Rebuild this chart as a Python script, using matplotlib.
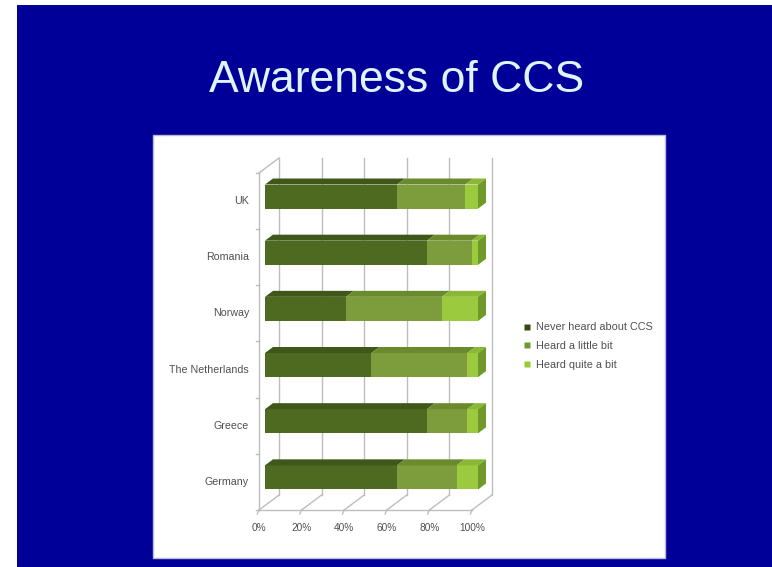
import matplotlib
matplotlib.use("Agg")
import matplotlib.pyplot as plt
from matplotlib.patches import Rectangle, Polygon
from matplotlib.lines import Line2D
from matplotlib.transforms import offset_copy

# ---- data ----
countries = ["Germany", "Greece", "The Netherlands", "Norway", "Romania", "UK"]
never_heard = [62, 76, 50, 38, 76, 62]
heard_little = [28, 19, 45, 45, 21, 32]
heard_quite = [10, 5, 5, 17, 3, 6]
series_names = ["Never heard about CCS", "Heard a little bit", "Heard quite a bit"]
x_ticks = [0, 20, 40, 60, 80, 100]
x_tick_labels = ["0%", "20%", "40%", "60%", "80%", "100%"]

# ---- styles ----
front_cols = ["#4e6a21", "#7d9c3c", "#9bca3e"]
top_cols = ["#3f5719", "#6a8a2e", "#8ab736"]
side_col = "#6f9a2a"
legend_cols = ["#34490f", "#6a9a30", "#99cc33"]
grid_col = "#bdbdbd"

W, H = 772, 567
def fx(px): return px / W
def fy(py): return 1 - py / H

fig = plt.figure(figsize=(W / 100, H / 100), dpi=100)
fig.patch.set_facecolor("white")
fig.patches.append(Rectangle((fx(17), 0), 1 - fx(17), fy(5), transform=fig.transFigure,
                             facecolor="#000099", edgecolor="none", zorder=-3))
fig.patches.append(Rectangle((fx(153), fy(558)), fx(665 - 153), (558 - 135) / H,
                             transform=fig.transFigure, facecolor="white",
                             edgecolor="#b8b8d8", lw=1.0, zorder=-2))
fig.text(fx(397), fy(81), "Awareness of CCS", ha="center", va="center",
         fontsize=32, color="#e0f4ff", family="Liberation Sans")

# depth offsets in data units
DX = 9.39
DY = 0.267

ax = fig.add_axes([fx(259), fy(510), fx(492 - 259), (510 - 158) / H])
ax.set_xlim(0, 100 + DX)
ax.set_ylim(-0.5, 5.5 + DY)
ax.axis("off")
ax.set_zorder(1)

# walls / grid
lw = 1.0
for x in x_ticks:
    ax.plot([x + DX, x + DX], [-0.5 + DY, 5.5 + DY], color=grid_col, lw=lw,
            zorder=1, clip_on=False)
    ax.plot([x, x + DX], [-0.5, -0.5 + DY], color=grid_col, lw=lw,
            zorder=1, clip_on=False)
ax.plot([0, 100], [-0.5, -0.5], color=grid_col, lw=lw, zorder=1, clip_on=False)
ax.plot([0, 0], [-0.5, 5.5], color=grid_col, lw=lw, zorder=1, clip_on=False)
ax.plot([0, DX], [5.5, 5.5 + DY], color=grid_col, lw=lw, zorder=1, clip_on=False)
for k in range(7):
    ax.plot([-1.4, 0], [k - 0.5, k - 0.5], color=grid_col, lw=lw, clip_on=False, zorder=1)
for x in x_ticks:
    ax.plot([x, x - 0.8], [-0.5, -0.57], color=grid_col, lw=lw, clip_on=False, zorder=1)

# bars
bar_h = 0.43
f0, fd = 0.3, 0.4
series = [never_heard, heard_little, heard_quite]
ypos = list(range(len(countries)))
lefts = [0.0] * len(countries)
for s, vals in enumerate(series):
    yc = [y + f0 * DY for y in ypos]
    ax.barh(yc, vals, left=[l + f0 * DX for l in lefts], height=bar_h,
            color=front_cols[s], edgecolor="none", zorder=3)
    for i, v in enumerate(vals):
        x0 = lefts[i] + f0 * DX
        x1 = x0 + v
        yt = yc[i] + bar_h / 2
        ax.add_patch(Polygon([(x0, yt), (x1, yt), (x1 + fd * DX, yt + fd * DY),
                              (x0 + fd * DX, yt + fd * DY)], closed=True,
                             facecolor=top_cols[s], edgecolor="none", zorder=3))
        if s == len(series) - 1:
            yb = yc[i] - bar_h / 2
            ax.add_patch(Polygon([(x1, yb), (x1, yt), (x1 + fd * DX, yt + fd * DY),
                                  (x1 + fd * DX, yb + fd * DY)], closed=True,
                                 facecolor=side_col, edgecolor="none", zorder=3))
    lefts = [l + v for l, v in zip(lefts, vals)]

# labels
tr_x = offset_copy(ax.transData, fig=fig, x=0, y=-18, units="dots")
for x, lab in zip(x_ticks, x_tick_labels):
    ax.text(x, -0.5, lab, transform=tr_x, ha="center", va="center",
            fontsize=7.3, color="#505050", family="Liberation Sans")
tr_y = offset_copy(ax.transData, fig=fig, x=-10, y=0, units="dots")
for y, lab in zip(ypos, countries):
    ax.text(0, y, lab, transform=tr_y, ha="right", va="center",
            fontsize=7.7, color="#505050", family="Liberation Sans")

handles = [Line2D([], [], marker="s", linestyle="none", markersize=4,
                  markerfacecolor=c, markeredgecolor="none") for c in legend_cols]
fig.legend(handles, series_names, loc="center left",
           bbox_to_anchor=(fx(524), fy(346)), frameon=False, borderpad=0,
           borderaxespad=0, handlelength=0.6, handletextpad=0.5,
           labelspacing=0.8, prop={"family": "Liberation Sans", "size": 7.8},
           labelcolor="#505050")

fig.savefig("out.png", dpi=100, facecolor=fig.get_facecolor())
